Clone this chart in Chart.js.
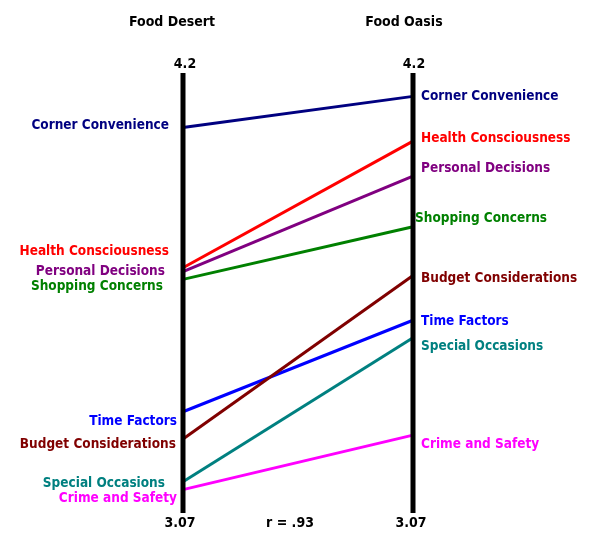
<!DOCTYPE html>
<html>
<head>
<meta charset="utf-8">
<script src="https://cdn.jsdelivr.net/npm/chart.js@4/dist/chart.umd.min.js"></script>
<style>
html,body{margin:0;padding:0;background:#fff;}
#wrap{width:600px;height:546px;}
</style>
</head>
<body>
<div id="wrap"><canvas id="c" width="600" height="546"></canvas></div>
<script>
// ---- data ----
const categories = ['Food Desert', 'Food Oasis'];
const factors = ['Corner Convenience','Health Consciousness','Personal Decisions','Shopping Concerns','Budget Considerations','Time Factors','Special Occasions','Crime and Safety'];
const desertValues = [4.06, 3.70, 3.69, 3.67, 3.26, 3.33, 3.15, 3.13];
const oasisValues  = [4.14, 4.025, 3.935, 3.805, 3.68, 3.565, 3.52, 3.27];
const colors = ['#000080','#FF0000','#800080','#008000','#800000','#0000FF','#008080','#FF00FF'];
const axisMax = 4.2, axisMin = 3.07;
const tickLabels = ['4.2', '3.07'];
const corrLabel = 'r = .93';

// ---- label layout (pixel offsets from line ends) ----
const leftLabelDy  = [-2, -16, 0, 7, 5, 10, 2, 9];
const leftLabelRight = [169, 169, 165, 163, 176, 177, 165, 177];
const rightLabelDy = [0, -3, -8, -8, 3, 1, 9, 9];
const rightLabelDx = [8, 8, 8, 2, 8, 8, 8, 8];

const FONT = '"DejaVu Sans Condensed", "DejaVu Sans", Verdana, sans-serif';

const datasets = factors.map((f, i) => ({
  label: f,
  data: [{x: 0, y: desertValues[i]}, {x: 1, y: oasisValues[i]}],
  borderColor: colors[i],
  backgroundColor: colors[i],
  borderWidth: 3,
  pointRadius: 0,
  fill: false,
  tension: 0,
  clip: false
}));

const slopePlugin = {
  id: 'slope',
  afterDatasetsDraw(chart) {
    const ctx = chart.ctx;
    const xs = chart.scales.x, ys = chart.scales.y;
    const xL = xs.getPixelForValue(0), xR = xs.getPixelForValue(1);
    const yTop = ys.getPixelForValue(axisMax), yBot = ys.getPixelForValue(axisMin);
    ctx.save();
    // axes
    ctx.strokeStyle = '#000';
    ctx.lineWidth = 5;
    [xL, xR].forEach(x => {
      ctx.beginPath(); ctx.moveTo(x, yTop); ctx.lineTo(x, yBot); ctx.stroke();
    });
    ctx.textBaseline = 'middle';
    // titles
    ctx.fillStyle = '#000';
    ctx.font = 'bold 14px ' + FONT;
    ctx.textAlign = 'center';
    ctx.fillText(categories[0], xL - 11, 22);
    ctx.fillText(categories[1], xR - 9, 22);
    // tick labels
    ctx.font = 'bold 14px ' + FONT;
    ctx.fillText(tickLabels[0], xL + 2, yTop - 9);
    ctx.fillText(tickLabels[0], xR + 1, yTop - 9);
    ctx.fillText(tickLabels[1], xL - 3, yBot + 10);
    ctx.fillText(tickLabels[1], xR - 2, yBot + 10);
    ctx.fillText(corrLabel, (xL + xR) / 2 - 8, yBot + 10);
    // factor labels
    ctx.font = 'bold 13.5px ' + FONT;
    factors.forEach((f, i) => {
      ctx.fillStyle = colors[i];
      ctx.textAlign = 'right';
      ctx.fillText(f, leftLabelRight[i], ys.getPixelForValue(desertValues[i]) + leftLabelDy[i]);
      ctx.textAlign = 'left';
      ctx.fillText(f, xR + rightLabelDx[i], ys.getPixelForValue(oasisValues[i]) + rightLabelDy[i]);
    });
    ctx.restore();
  }
};

new Chart(document.getElementById('c'), {
  type: 'line',
  data: { datasets },
  options: {
    responsive: false,
    animation: false,
    layout: { padding: { left: 183, right: 187, top: 73, bottom: 33 } },
    plugins: { legend: { display: false }, tooltip: { enabled: false } },
    scales: {
      x: { type: 'linear', min: 0, max: 1, display: false },
      y: { type: 'linear', min: axisMin, max: axisMax, display: false }
    }
  },
  plugins: [slopePlugin]
});
</script>
</body>
</html>
